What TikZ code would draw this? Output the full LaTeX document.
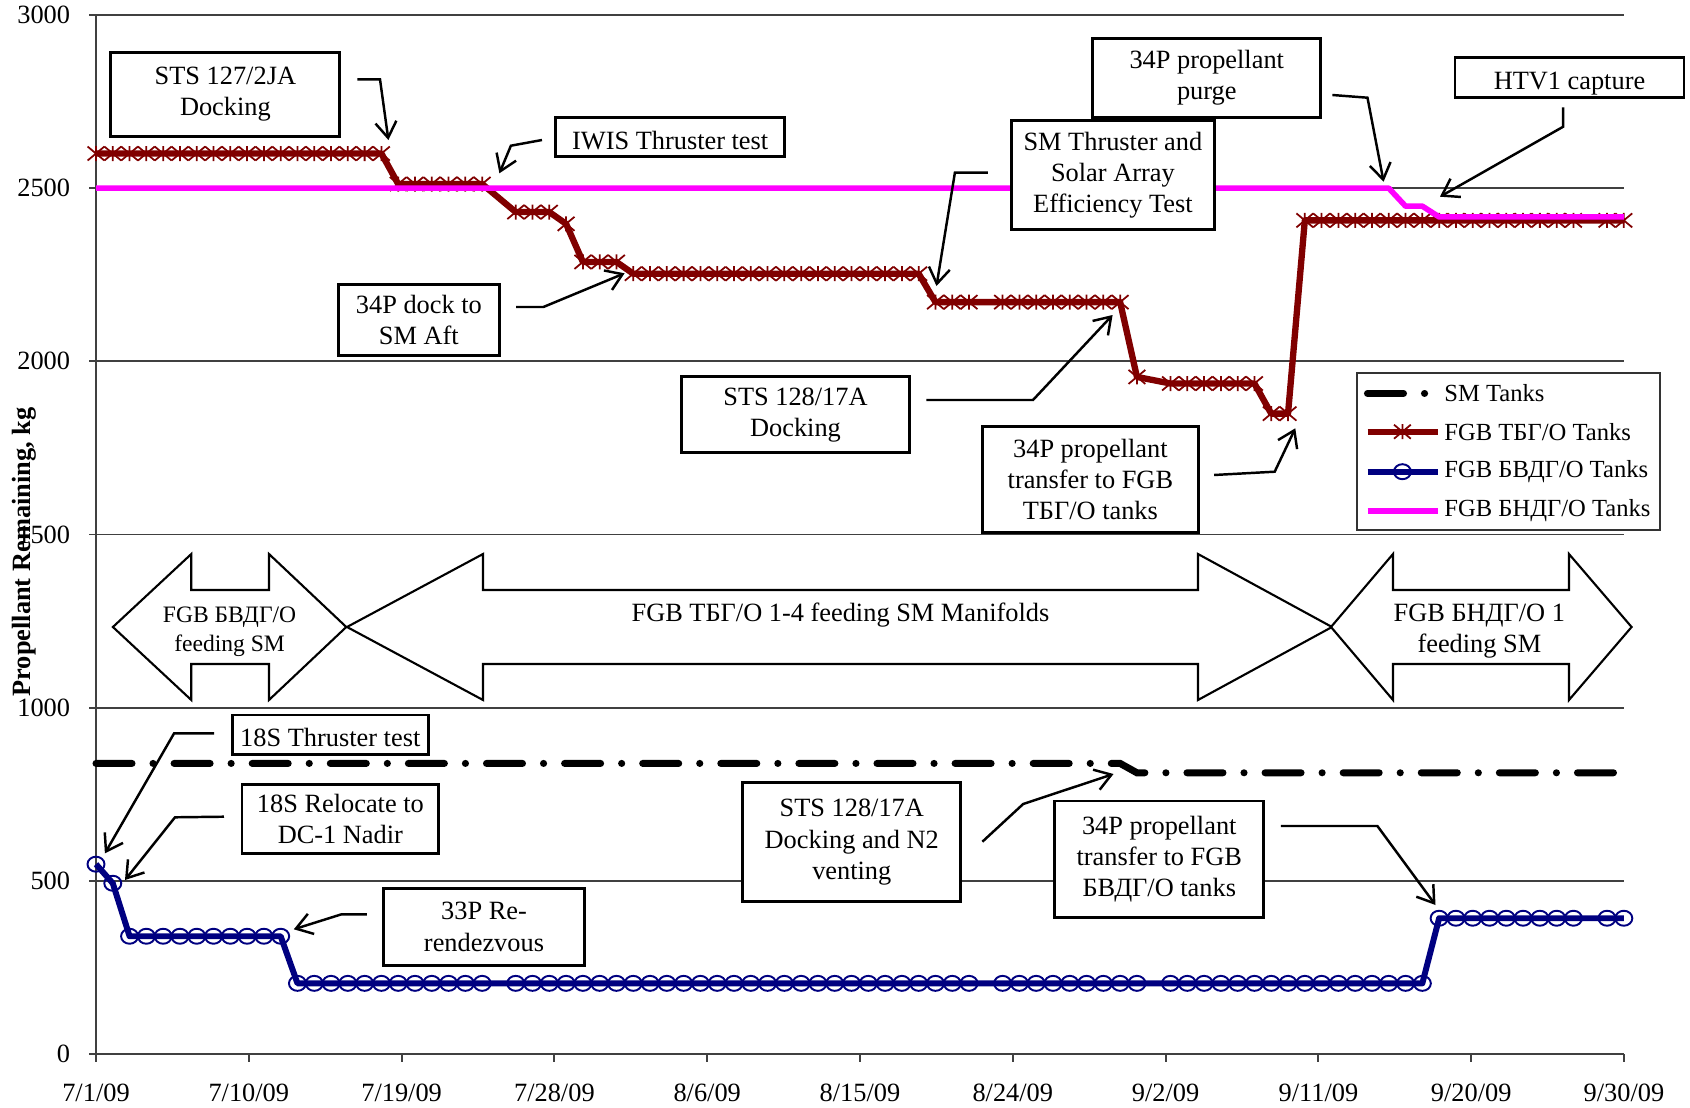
\documentclass[tikz,border=0pt]{standalone}
\usepackage{fontspec}
\setmainfont{Liberation Serif}
\usepackage{xcolor}
\usetikzlibrary{arrows.meta}

\definecolor{tbgred}{RGB}{128,0,0}
\definecolor{bvdblue}{RGB}{0,0,128}
\definecolor{bndpink}{RGB}{255,0,255}

\tikzset{
  gridln/.style={black!75, line width=0.55pt},
  ticklab/.style={inner sep=0pt, font=\fontsize{7.5}{9}\selectfont},
  tbgline/.style={tbgred, line width=1.8pt, line join=round},
  bvdline/.style={bvdblue, line width=1.7pt, line join=round},
  bndline/.style={bndpink, line width=1.6pt, line join=round},
  smline/.style={black, line width=2pt, line cap=round,
    dash pattern=on 3.6mm off 2.1mm on 0.01mm off 2.1mm},
  note/.style={draw, fill=white, line width=0.8pt, align=center, inner sep=0pt,
    font=\fontsize{7.5}{8.9}\selectfont},
  oneline/.style={text height=1.5ex, text depth=0pt},
  callout/.style={line width=0.7pt, -{Straight Barb[length=4.5pt,width=6pt]}},
  feed/.style={draw, fill=white, line width=0.6pt, line join=miter},
  feedtext/.style={align=center, inner sep=0pt, font=\fontsize{7.5}{9}\selectfont},
  legtext/.style={anchor=west, inner sep=0pt, font=\fontsize{7}{8}\selectfont},
  astmark/.pic={\draw[tbgred, line width=0.5pt] (-0.084cm,-0.07cm) -- (0.084cm,0.07cm)
    (-0.084cm,0.07cm) -- (0.084cm,-0.07cm) (0,-0.075cm) -- (0,0.075cm);},
  circmark/.pic={\draw[bvdblue, line width=0.55pt] (0,0) ellipse [x radius=0.085cm, y radius=0.075cm];}
}

\begin{document}
\begin{tikzpicture}[x=0.1679cm, y=0.003465cm]
\useasboundingbox (-0.96cm,-0.53cm) rectangle (15.94cm,10.54cm);

% grid and axes
\foreach \v in {500,1000,...,3000} \draw[gridln] (0,\v) -- (91,\v);
\draw[gridln] (0,0) -- (0,3000);
\draw[gridln] (0,0) -- (91,0);
\foreach \v in {0,500,...,3000} {
  \draw[gridln] (0,\v) -- ++(-0.075cm,0);
  \node[ticklab, anchor=east] (ylab\v) at ([xshift=-2.52mm]0,\v) {\v};
}
\foreach \lab [count=\k from 0] in {{7/1/09},{7/10/09},{7/19/09},{7/28/09},{8/6/09},{8/15/09},{8/24/09},{9/2/09},{9/11/09},{9/20/09},{9/30/09}} {
  \draw[gridln] (\k*1.528cm,0) -- ++(0,-0.08cm);
  \node[ticklab, anchor=base] (xlab\k) at (\k*1.528cm,-0.47cm) {\lab};
}
\node[rotate=90, inner sep=0pt, font=\bfseries\fontsize{7.5}{9}\selectfont] (ytitle) at (-0.72cm,5.02cm) {Propellant Remaining, kg};

% SM tanks
\draw[smline, dash phase=0pt] (0,839) -- (61,839) -- (62,812) -- (91,812);

% FGB TBG/O tanks
\draw[tbgline] (0,2600) -- (17,2600) -- (18,2512) -- (23,2512) -- (25,2431) -- (27,2431)
  -- (28,2397) -- (29,2287) -- (31,2287) -- (32,2253) -- (49,2253) -- (50,2171)
  -- (61,2171) -- (62,1955) -- (64,1936) -- (69,1936) -- (70,1849) -- (71,1849)
  -- (72,2407) -- (91,2407);
\foreach \a/\b/\v in {0/17/2600, 18/23/2512, 25/27/2431, 28/28/2397, 29/31/2287, 32/49/2253,
    50/52/2171, 54/61/2171, 62/62/1955, 64/69/1936, 70/71/1849, 72/88/2407, 90/91/2407}
  \foreach \d in {\a,...,\b} \pic at (\d,\v) {astmark};

% FGB BVDG/O tanks
\draw[bvdline] (0,548) -- (1,493) -- (2,340) -- (11,340) -- (12,204) -- (79,204) -- (80,392) -- (91,392);
\foreach \a/\b/\v in {0/0/548, 1/1/493, 2/11/340, 12/23/204, 25/52/204, 54/62/204, 64/79/204,
    80/88/392, 90/91/392}
  \foreach \d in {\a,...,\b} \pic at (\d,\v) {circmark};

% FGB BNDG/O tanks
\draw[bndline] (0,2500) -- (77,2500) -- (78,2448) -- (79,2448) -- (80,2417) -- (91,2417);

% feeding arrows
\foreach \a/\b/\c/\d in {0.169/0.953/1.73/2.503, 2.51/3.87/11.02/12.36, 12.35/12.97/14.73/15.356}
  \draw[feed] (\a cm,4.27cm) -- (\b cm,5cm) -- (\b cm,4.64cm) -- (\c cm,4.64cm) -- (\c cm,5cm)
    -- (\d cm,4.27cm) -- (\c cm,3.54cm) -- (\c cm,3.9cm) -- (\b cm,3.9cm) -- (\b cm,3.54cm) -- cycle;
\node[feedtext, font=\fontsize{6.7}{8.2}\selectfont] (feedbvd) at (1.336cm,4.22cm) {FGB БВДГ/О\\feeding SM};
\node[feedtext] (feedtbg) at (7.445cm,4.39cm) {FGB ТБГ/О 1-4 feeding SM Manifolds};
\node[feedtext] (feedbnd) at (13.834cm,4.23cm) {FGB БНДГ/О 1\\feeding SM};

% events
\node[note, minimum width=2.29cm, minimum height=0.84cm] (sts127) at (1.294cm,9.598cm) {STS 127/2JA\\Docking};
\node[note, oneline, minimum width=2.29cm, minimum height=0.394cm] (iwis) at (5.742cm,9.17cm) {IWIS Thruster test};
\node[note, minimum width=1.61cm, minimum height=0.71cm] (dock34) at (3.229cm,7.342cm) {34P dock to\\SM Aft};
\node[note, minimum width=2.036cm, minimum height=1.086cm] (smtest) at (10.169cm,8.79cm) {SM Thruster and\\Solar Array\\Efficiency Test};
\node[note, minimum width=2.28cm, minimum height=0.79cm] (purge34) at (11.108cm,9.762cm) {34P propellant\\purge};
\node[note, oneline, minimum width=2.29cm, minimum height=0.4cm] (htv) at (14.735cm,9.763cm) {HTV1 capture};
\node[note, minimum width=2.28cm, minimum height=0.76cm] (sts128) at (6.995cm,6.392cm) {STS 128/17A\\Docking};
\node[note, minimum width=2.155cm, minimum height=1.06cm] (trtbg) at (9.944cm,5.743cm) {34P propellant\\transfer to FGB\\ТБГ/О tanks};
\node[note, oneline, minimum width=1.964cm, minimum height=0.393cm] (thr18) at (2.343cm,3.193cm) {18S Thruster test};
\node[note, minimum width=1.968cm, minimum height=0.69cm] (reloc18) at (2.444cm,2.352cm) {18S Relocate to\\DC-1 Nadir};
\node[note, minimum width=2.018cm, minimum height=0.773cm] (rend33) at (3.88cm,1.27cm) {33P Re-\\rendezvous};
\node[note, minimum width=2.178cm, minimum height=1.19cm] (sts128n) at (7.558cm,2.118cm) {STS 128/17A\\Docking and N2\\venting};
\node[note, minimum width=2.09cm, minimum height=1.163cm] (trbvd) at (10.633cm,1.948cm) {34P propellant\\transfer to FGB\\БВДГ/О tanks};

\coordinate (tip1) at (2.924cm,9.14cm);
\coordinate (tip2) at (4.034cm,8.807cm);
\coordinate (tip3) at (5.286cm,7.807cm);
\coordinate (tip4) at (8.405cm,7.68cm);
\coordinate (tip5) at (12.876cm,8.723cm);
\coordinate (tip6) at (13.44cm,8.573cm);
\coordinate (tip7) at (10.166cm,7.39cm);
\coordinate (tip8) at (11.993cm,6.257cm);
\coordinate (tip9) at (0.089cm,2.007cm);
\coordinate (tip10) at (0.29cm,1.74cm);
\coordinate (tip11) at (1.978cm,1.247cm);
\coordinate (tip12) at (10.175cm,2.8cm);
\coordinate (tip13) at (13.395cm,1.49cm);

\draw[callout] ([xshift=1.6mm,yshift=1.49mm]sts127.east) -- (2.84cm,9.747cm) -- (tip1);
\draw[callout] ([xshift=-1.23mm,yshift=-0.3mm]iwis.west) -- (4.149cm,9.083cm) -- (tip2);
\draw[callout] ([xshift=1.53mm,yshift=1.28mm]dock34.east) -- (4.474cm,7.47cm) -- (tip3);
\draw[callout] ([xshift=-2.18mm,yshift=0.23mm]smtest.west) -- (8.589cm,8.813cm) -- (tip4);
\draw[callout] ([xshift=1.02mm,yshift=-1.72mm]purge34.east) -- (12.715cm,9.563cm) -- (tip5);
\draw[callout] ([xshift=-0.63mm,yshift=-0.83mm]htv.south) -- (14.672cm,9.273cm) -- (tip6);
\draw[callout] ([xshift=1.55mm,yshift=1.48mm]sts128.east) -- (9.37cm,6.54cm) -- (tip7);
\draw[callout] ([xshift=1.45mm,yshift=0.47mm]trtbg.east) -- (11.787cm,5.823cm) -- (tip8);
\draw[callout] ([xshift=-1.65mm,yshift=0.14mm]thr18.west) -- (0.781cm,3.207cm) -- (tip9);
\draw[callout] ([xshift=-1.66mm,yshift=0.21mm]reloc18.west) -- (0.79cm,2.367cm) -- (tip10);
\draw[callout] ([xshift=-1.48mm,yshift=1.27mm]rend33.west) -- (2.455cm,1.397cm) -- (tip11);
\draw[callout] ([xshift=2.03mm,yshift=0.05mm]sts128n.east) -- (9.272cm,2.5cm) -- (tip12);
\draw[callout] ([xshift=1.57mm,yshift=3.32mm]trbvd.east) -- (12.814cm,2.28cm) -- (tip13);

% legend
\node[draw=black!80, fill=white, line width=0.5pt, minimum width=3.024cm, minimum height=1.573cm, inner sep=0pt] (legend) at (14.125cm,6.0265cm) {};
\draw[smline, dash phase=0pt] (12.715cm,6.607cm) -- (13.42cm,6.607cm);
\draw[tbgline] (12.715cm,6.223cm) -- (13.42cm,6.223cm);
\pic at (13.064cm,6.223cm) {astmark};
\draw[bvdline] (12.715cm,5.823cm) -- (13.42cm,5.823cm);
\pic at (13.064cm,5.823cm) {circmark};
\draw[bndline] (12.715cm,5.433cm) -- (13.42cm,5.433cm);
\node[legtext] (legsm) at (13.477cm,6.607cm) {SM Tanks};
\node[legtext] (legtbg) at (13.477cm,6.223cm) {FGB ТБГ/О Tanks};
\node[legtext] (legbvd) at (13.477cm,5.823cm) {FGB БВДГ/О Tanks};
\node[legtext] (legbnd) at (13.477cm,5.433cm) {FGB БНДГ/О Tanks};

\end{tikzpicture}
\end{document}
